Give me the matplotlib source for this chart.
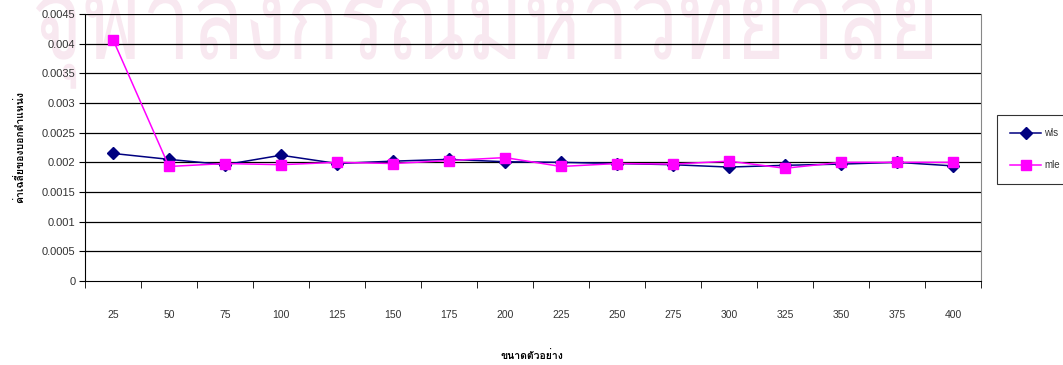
import matplotlib
matplotlib.use("Agg")
import matplotlib.pyplot as plt
from matplotlib import font_manager
from matplotlib.ft2font import FT2Font
from matplotlib.textpath import TextPath
from matplotlib.font_manager import FontProperties
from matplotlib.patches import PathPatch
from matplotlib.transforms import Affine2D

categories = [25, 50, 75, 100, 125, 150, 175, 200, 225, 250, 275, 300, 325, 350, 375, 400]
wls = [0.00215, 0.00205, 0.00196, 0.00212, 0.00198, 0.00202, 0.00205, 0.00201,
       0.00200, 0.00198, 0.00196, 0.00192, 0.00195, 0.00197, 0.00200, 0.00194]
mle = [0.00407, 0.00193, 0.00198, 0.00196, 0.00200, 0.00198, 0.00203, 0.00208,
       0.00193, 0.00198, 0.00197, 0.00202, 0.00190, 0.00200, 0.00200, 0.00200]
yticks = [0, 0.0005, 0.001, 0.0015, 0.002, 0.0025, 0.003, 0.0035, 0.004, 0.0045]
ytick_labels = ["0", "0.0005", "0.001", "0.0015", "0.002", "0.0025", "0.003", "0.0035", "0.004", "0.0045"]
xlabel = "ขนาดตัวอย่าง"
ylabel = "ค่าเฉลี่ยของบอกตำแหน่ง"
watermark = "จุฬาลงกรณ์มหาวิทยาลัย"
series_names = ["wls", "mle"]

# find a font with Thai glyphs
thai_font = None
seen = set()
for f in font_manager.fontManager.ttflist:
    if f.name in seen:
        continue
    seen.add(f.name)
    try:
        cm = FT2Font(f.fname).get_charmap()
        if ord("ก") in cm and ord("ุ") in cm:
            thai_font = f.name
            if "Sans" in f.name or "Loma" in f.name or "Tahoma" in f.name:
                break
    except Exception:
        pass
fams = ["Liberation Sans", "DejaVu Sans"]
thai_fams = ([thai_font] if thai_font else []) + fams
plt.rcParams["font.family"] = thai_fams

W, H = 1063, 365
fig = plt.figure(figsize=(W / 100, H / 100), dpi=100)

# watermark drawn as a text path stretched into its box (pixel coords)
wprop = FontProperties(family=thai_fams)
tp = TextPath((0, 0), watermark, size=100, prop=wprop)
ext = tp.get_extents()
ha = TextPath((0, 0), "า", size=100, prop=wprop).get_extents().ymax
x0, x1, base, body = 36, 932, 59, 64
sx = (x1 - x0) / (ext.x1 - ext.x0)
sy = body / ha
tr = Affine2D().translate(-ext.x0, 0).scale(sx, sy).translate(x0, H - base)
wm = PathPatch(tp, transform=tr, facecolor="#f8e8f0", edgecolor="none", zorder=0)
fig.add_artist(wm)

ax = fig.add_axes([85 / W, 1 - 281 / H, (981 - 85) / W, (281 - 14) / H])
ax.patch.set_alpha(0)
x = list(range(len(categories)))
ax.plot(x, wls, color="#000080", marker="D", markersize=6.5, linewidth=1.1, label=series_names[0], zorder=3)
ax.plot(x, mle, color="#ff00ff", marker="s", markersize=7.5, linewidth=1.1, label=series_names[1], zorder=4)
ax.set_xlim(-0.5, len(categories) - 0.5)
ax.set_ylim(0, 0.0045)
ax.set_yticks(yticks)
ax.set_yticklabels(ytick_labels, family=fams)
for yv in yticks[1:]:
    ax.axhline(yv, color="black", linewidth=0.9, zorder=1)
ax.set_xticks(x)
ax.set_xticklabels([str(c) for c in categories], family=fams)
ax.set_xticks([i - 0.5 for i in range(len(categories) + 1)], minor=True)
ax.tick_params(axis="x", which="major", length=0, pad=21, labelsize=7.5, labelcolor="#333333")
ax.tick_params(axis="x", which="minor", length=5, direction="out", color="black")
ax.tick_params(axis="y", length=4, direction="out", labelsize=8, labelcolor="#333333", pad=3)
ax.spines["top"].set_visible(False)
ax.spines["right"].set_color("#888888")
ax.spines["left"].set_color("black")
ax.spines["bottom"].set_color("black")

fig.text(532 / W, 1 - 356 / H, xlabel, fontsize=7.5, fontweight="bold", ha="center", va="center", family=thai_fams)
fig.text(20 / W, 1 - 147 / H, ylabel, fontsize=7.5, fontweight="bold", rotation=90,
         ha="center", va="center", family=thai_fams)

leg = fig.legend(loc="upper left", bbox_to_anchor=(997 / W, 1 - 115 / H), frameon=True,
                 fancybox=False, edgecolor="black", borderpad=1.35, labelspacing=2.3,
                 handlelength=3.2, handletextpad=0.3, borderaxespad=0,
                 prop={"family": fams, "size": 7})
leg.get_frame().set_linewidth(0.8)
for t in leg.get_texts():
    t.set_color("#333333")

fig.savefig("out.png", dpi=100)
